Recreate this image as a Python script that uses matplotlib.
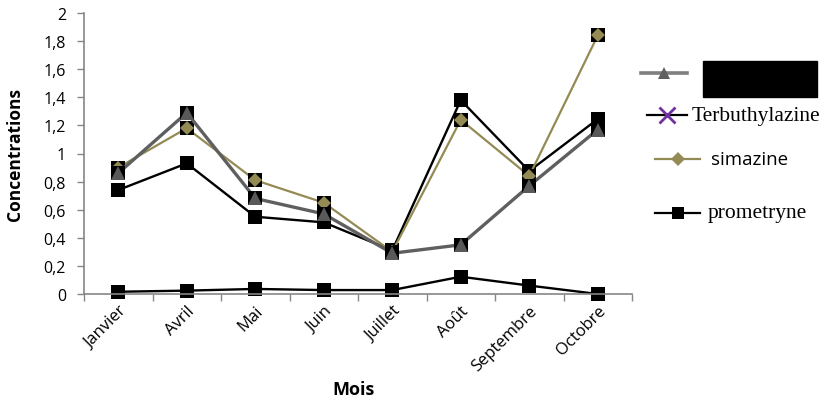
import matplotlib.pyplot as plt
from matplotlib.lines import Line2D
from matplotlib.patches import Rectangle
from matplotlib.ticker import FuncFormatter

# Monthly concentrations per herbicide
mois = ["Janvier", "Avril", "Mai", "Juin", "Juillet", "Août", "Septembre", "Octobre"]
serie_grise = [0.86, 1.29, 0.68, 0.57, 0.29, 0.35, 0.77, 1.17]
terbuthylazine = [0.74, 0.93, 0.55, 0.51, 0.31, 1.38, 0.875, 1.245]
simazine = [0.90, 1.18, 0.81, 0.65, 0.30, 1.24, 0.84, 1.84]
prometryne = [0.016, 0.024, 0.036, 0.028, 0.028, 0.123, 0.06, 0.0]
y_ticks = [0, 0.2, 0.4, 0.6, 0.8, 1.0, 1.2, 1.4, 1.6, 1.8, 2.0]

gris = "#5f5f5f"
olive = "#948a54"
violet = "#7030a0"
axe_col = "#868686"

plt.rcParams["font.family"] = ["Open Sans", "DejaVu Sans"]

fig = plt.figure(figsize=(8.25, 4.06), dpi=100)
ax = fig.add_axes([84 / 825, 1 - 295 / 406, 548 / 825, 281 / 406])

x = list(range(len(mois)))

# bottom series first, grey triangles end up on top
ax.plot(x, prometryne, color="black", lw=1.7, marker="s", ms=10, mew=0, zorder=2,
        clip_on=False)
ax.plot(x, terbuthylazine, color="black", lw=1.7, marker="s", ms=10, mew=0, zorder=3)
ax.plot(x, simazine, color=olive, lw=1.6, zorder=4)
ax.plot(x, simazine, ls="none", marker="s", ms=10, mew=0, color="black", zorder=4)
ax.plot(x, simazine, ls="none", marker="D", ms=7.5, mew=0, color=olive, zorder=4)
ax.plot(x, serie_grise, color=gris, lw=2.4, zorder=5)
ax.plot(x, serie_grise, ls="none", marker="s", ms=10, mew=0, color="black", zorder=5)
ax.plot(x, serie_grise, ls="none", marker="^", ms=9.5, mew=0, color="#595959", zorder=5)

ax.set_xlim(-0.5, len(mois) - 0.5)
ax.set_ylim(0, 2)
ax.set_yticks(y_ticks)
ax.yaxis.set_major_formatter(FuncFormatter(lambda v, p: f"{v:g}".replace(".", ",")))
ax.set_xticks([i - 0.5 for i in range(len(mois) + 1)])
ax.set_xticklabels([])
ax.set_xticks(x, minor=True)
ax.set_xticklabels(mois, minor=True, rotation=45, ha="right", va="top",
                   rotation_mode="anchor", fontsize=12)
ax.tick_params(axis="x", which="minor", length=0, pad=6)
ax.tick_params(axis="x", which="major", length=5, color=axe_col, width=1)
ax.tick_params(axis="y", length=5, color=axe_col, width=1, labelsize=11.5, pad=8)

for s in ["top", "right"]:
    ax.spines[s].set_visible(False)
for s in ["left", "bottom"]:
    ax.spines[s].set_color(axe_col)
    ax.spines[s].set_linewidth(1.2)

ax.set_ylabel("Concentrations", fontsize=12.5, fontweight="bold", va="center")
ax.yaxis.set_label_coords(-69 / 548, 0.5)
ax.set_xlabel("Mois", fontsize=13, fontweight="bold", va="center")
ax.xaxis.set_label_coords(0.492, -95 / 281)

# hand-placed legend on the right
def entree(y, x0, x1, couleur, lw, marqueur, ms, mcol, texte, tx, fam, fs):
    yf = 1 - y / 406
    fig.add_artist(Line2D([x0 / 825, x1 / 825], [yf, yf], color=couleur, lw=lw))
    fig.add_artist(Line2D([(x0 + x1) / 2 / 825], [yf], ls="none", marker=marqueur,
                          ms=ms, color=mcol, mew=2 if marqueur == "x" else 0))
    if texte:
        fig.text(tx / 825, yf, texte, family=fam, fontsize=fs, va="center", ha="left")

entree(74, 641, 687, "#7f7f7f", 2.6, "^", 9, gris, None, 0, None, 0)
entree(116, 647, 687, "black", 1.6, "x", 12, violet, "Terbuthylazine", 692,
       ["Liberation Serif"], 15.5)
entree(160, 655, 700, olive, 1.6, "D", 7.5, olive, "simazine", 711,
       ["Open Sans", "DejaVu Sans"], 13.5)
entree(214, 655, 700, "black", 1.6, "s", 9, "black", "prometryne", 708,
       ["Liberation Serif"], 15.5)
fig.add_artist(Rectangle((703 / 825, 1 - 98 / 406), 114 / 825, 36 / 406,
                         transform=fig.transFigure, color="black"))

fig.savefig("out.png", dpi=100)
